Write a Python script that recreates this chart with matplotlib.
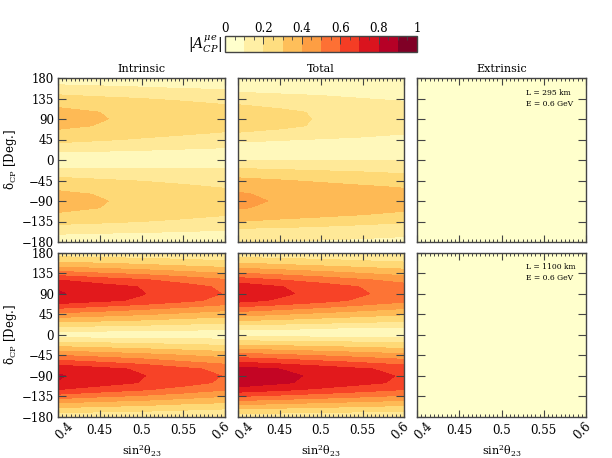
import numpy as np
import matplotlib
matplotlib.use('Agg')
import matplotlib.pyplot as plt
from matplotlib.ticker import MultipleLocator
from matplotlib.transforms import ScaledTranslation

plt.rcParams['font.family'] = 'DejaVu Serif'
plt.rcParams['mathtext.fontset'] = 'dejavuserif'
plt.rcParams['font.size'] = 8

# sin^2 theta23 columns, delta_CP rows
s23 = [0.4, 0.45, 0.5, 0.55, 0.6]
delta = [-180, -165, -150, -135, -120, -105, -90, -75, -60, -45, -30, -15, 0,
         15, 30, 45, 60, 75, 90, 105, 120, 135, 150, 165, 180]
levels = [0, 0.1, 0.2, 0.3, 0.4, 0.5, 0.6, 0.7, 0.8, 0.9, 1.0]

intrinsic_295 = [
    [.04, .04, .035, .03, .03],
    [.09, .08, .075, .07, .065],
    [.16, .15, .14, .125, .115],
    [.23, .215, .20, .18, .165],
    [.29, .27, .25, .23, .205],
    [.32, .30, .275, .25, .23],
    [.33, .305, .28, .255, .235],
    [.32, .295, .27, .25, .23],
    [.28, .26, .24, .215, .195],
    [.23, .21, .195, .18, .17],
    [.165, .155, .145, .14, .135],
    [.085, .085, .085, .085, .085],
    [.03, .03, .03, .03, .03],
    [.085, .08, .075, .07, .06],
    [.165, .15, .135, .12, .11],
    [.23, .21, .19, .17, .155],
    [.28, .255, .235, .215, .195],
    [.32, .295, .27, .25, .23],
    [.33, .305, .28, .255, .235],
    [.32, .30, .275, .25, .23],
    [.29, .27, .25, .23, .205],
    [.235, .215, .20, .18, .16],
    [.17, .155, .14, .125, .115],
    [.10, .09, .08, .07, .065],
    [.04, .04, .035, .03, .03],
]

total_295 = [
    [.10, .095, .09, .085, .08],
    [.145, .135, .125, .115, .105],
    [.20, .19, .175, .16, .14],
    [.30, .28, .26, .235, .215],
    [.35, .335, .32, .30, .28],
    [.41, .375, .355, .335, .32],
    [.425, .39, .375, .36, .345],
    [.41, .38, .36, .345, .33],
    [.375, .355, .335, .315, .295],
    [.325, .305, .285, .265, .25],
    [.26, .245, .23, .215, .20],
    [.18, .17, .16, .155, .15],
    [.10, .10, .10, .10, .10],
    [.08, .075, .07, .065, .06],
    [.075, .07, .07, .065, .06],
    [.115, .105, .095, .085, .08],
    [.195, .17, .145, .125, .105],
    [.27, .225, .185, .16, .14],
    [.285, .235, .19, .17, .15],
    [.27, .225, .185, .16, .145],
    [.205, .175, .15, .13, .115],
    [.15, .13, .115, .10, .09],
    [.095, .085, .08, .075, .07],
    [.08, .07, .065, .06, .055],
    [.06, .055, .05, .05, .05],
]

intrinsic_1100 = [
    [.12, .11, .10, .10, .09],
    [.25, .23, .22, .20, .18],
    [.39, .36, .34, .31, .29],
    [.55, .51, .48, .44, .40],
    [.70, .65, .61, .56, .51],
    [.795, .745, .695, .64, .58],
    [.81, .755, .705, .65, .595],
    [.775, .73, .685, .625, .57],
    [.64, .60, .56, .51, .47],
    [.50, .465, .435, .40, .365],
    [.34, .315, .295, .27, .25],
    [.19, .175, .165, .15, .14],
    [.03, .03, .03, .03, .03],
    [.17, .16, .15, .135, .125],
    [.32, .30, .28, .255, .235],
    [.47, .44, .41, .375, .345],
    [.62, .58, .54, .50, .455],
    [.765, .72, .685, .625, .57],
    [.81, .755, .705, .65, .595],
    [.79, .74, .695, .64, .58],
    [.70, .65, .61, .56, .51],
    [.54, .50, .47, .43, .395],
    [.38, .355, .33, .305, .28],
    [.25, .23, .22, .20, .18],
    [.12, .11, .10, .10, .09],
]

total_1100 = [
    [.13, .125, .12, .11, .105],
    [.27, .255, .24, .23, .215],
    [.43, .41, .385, .365, .34],
    [.60, .57, .54, .51, .48],
    [.76, .72, .68, .64, .60],
    [.86, .815, .77, .725, .68],
    [.87, .825, .78, .735, .69],
    [.84, .80, .755, .71, .67],
    [.70, .665, .625, .59, .55],
    [.55, .52, .49, .46, .43],
    [.38, .36, .34, .32, .30],
    [.22, .21, .20, .19, .18],
    [.05, .05, .05, .05, .05],
    [.12, .115, .105, .095, .09],
    [.29, .27, .245, .225, .205],
    [.44, .405, .37, .34, .31],
    [.59, .55, .505, .46, .42],
    [.735, .685, .635, .58, .525],
    [.77, .72, .665, .61, .55],
    [.76, .705, .65, .595, .54],
    [.65, .60, .555, .51, .465],
    [.50, .465, .43, .395, .36],
    [.36, .33, .305, .28, .255],
    [.23, .215, .20, .18, .165],
    [.12, .11, .10, .10, .09],
]

# extrinsic part is flat and small everywhere
s23_ext = [0.4, 0.6]
delta_ext = [-180, 180]
extrinsic_295 = [[.02, .02], [.03, .02]]
extrinsic_1100 = [[.02, .02], [.03, .02]]

panels = [
    [intrinsic_295, total_295, extrinsic_295],
    [intrinsic_1100, total_1100, extrinsic_1100],
]
titles = ['Intrinsic', 'Total', 'Extrinsic']
notes = ['L = 295 km\nE = 0.6 GeV', 'L = 1100 km\nE = 0.6 GeV']

x_ticks = [0.4, 0.45, 0.5, 0.55, 0.6]
x_labels = ['0.4', '0.45', '0.5', '0.55', '0.6']
y_ticks = [-180, -135, -90, -45, 0, 45, 90, 135, 180]
y_labels = ['\u2212180', '\u2212135', '\u221290', '\u221245', '0', '45', '90', '135', '180']

W, H = 612.0, 458.0
lefts = [(58, 225), (238, 404), (417, 586)]
rows = [(78, 242), (252.5, 417)]

fig = plt.figure(figsize=(W / 100, H / 100), dpi=100)
spine_col = '#444444'

for r, (top, bot) in enumerate(rows):
    for c, (l, rt) in enumerate(lefts):
        ax = fig.add_axes([l / W, 1 - bot / H, (rt - l) / W, (bot - top) / H])
        if c == 2:
            cf = ax.contourf(s23_ext, delta_ext, panels[r][c], levels=levels, cmap='YlOrRd', vmin=0.05, vmax=0.95)
        else:
            cf = ax.contourf(s23, delta, panels[r][c], levels=levels, cmap='YlOrRd')
        ax.set_xlim(0.4, 0.6)
        ax.set_ylim(-180, 180)
        ax.set_xticks(x_ticks)
        ax.set_yticks(y_ticks)
        ax.xaxis.set_minor_locator(MultipleLocator(0.005))
        ax.tick_params(which='major', axis='x', direction='in', top=True, length=4.8, width=0.8, color=spine_col)
        ax.tick_params(which='major', axis='y', direction='in', right=True, length=6, width=0.8, color=spine_col)
        ax.tick_params(which='minor', axis='x', direction='in', top=True, length=2.2, width=0.7, color=spine_col)
        ax.tick_params(axis='y', labelsize=8.5, pad=3)
        ax.tick_params(axis='x', labelsize=8.5, pad=5)
        for sp in ax.spines.values():
            sp.set_color(spine_col)
            sp.set_linewidth(1.0)
        if r == 1:
            ax.set_xticklabels(x_labels)
            for lab in ax.get_xticklabels():
                txt = lab.get_text()
                if txt in ('0.4', '0.6'):
                    lab.set_rotation(45)
                    dx = 6 if txt == '0.4' else -4
                    lab.set_transform(lab.get_transform() + ScaledTranslation(dx / 100, 4 / 100, fig.dpi_scale_trans))
            ax.set_xlabel(r'$\mathrm{sin^2\theta_{23}}$', fontsize=8, va='center')
            ax.xaxis.set_label_coords(0.5, -34 / (bot - top))
        else:
            ax.set_xticklabels([])
        if c == 0:
            ax.set_yticklabels(y_labels)
            ax.set_ylabel(r'$\mathrm{\delta_{CP}}$ [Deg.]', fontsize=8.5, va='center')
            ax.yaxis.set_label_coords(-48 / (rt - l), 0.5)
        else:
            ax.set_yticklabels([])
        if r == 0:
            ax.set_title(titles[c], fontsize=8, pad=4)
        if c == 2:
            ax.text(0.645, 0.935, notes[r], transform=ax.transAxes, fontsize=5.5, ha='left', va='top',
                    multialignment='left', linespacing=1.5)

cax = fig.add_axes([225 / W, 1 - 52 / H, (417 - 225) / W, 16 / H])
cb = fig.colorbar(cf, cax=cax, orientation='horizontal')
cb.set_ticks([0, 0.2, 0.4, 0.6, 0.8, 1])
cb.set_ticklabels(['0', '0.2', '0.4', '0.6', '0.8', '1'])
cax.xaxis.set_ticks_position('top')
cax.xaxis.set_minor_locator(MultipleLocator(0.05))
cax.tick_params(which='major', direction='in', length=5.5, width=0.7, labelsize=8.5, pad=1, color=spine_col)
cax.tick_params(which='minor', direction='in', length=3, width=0.6, color=spine_col)
cb.outline.set_edgecolor(spine_col)
cb.outline.set_linewidth(1.0)
fig.text(222 / W, 1 - 44 / H, r'$|A_{CP}^{\mu e}|$', fontsize=10, ha='right', va='center')

fig.savefig('out.png', dpi=100)
